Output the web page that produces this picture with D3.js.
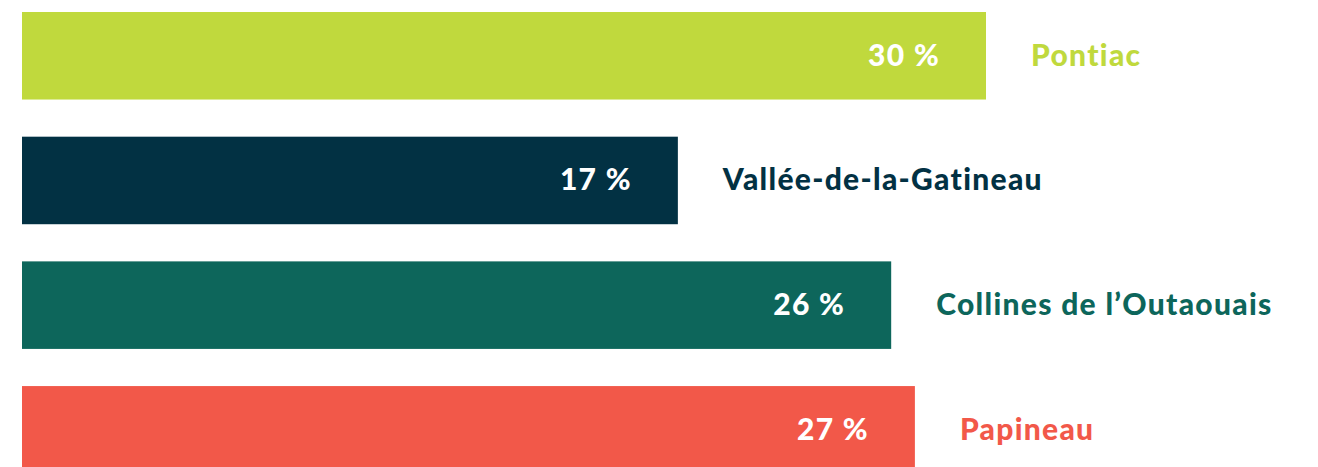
<!DOCTYPE html>
<html>
<head>
<meta charset="utf-8">
<script src="https://cdn.jsdelivr.net/npm/d3@7"></script>
<style>
  html, body { margin: 0; padding: 0; background: #fff; overflow: hidden; }
  text { font-family: "Lato", "Open Sans", sans-serif; font-weight: 900; letter-spacing: 1.3px; }
</style>
</head>
<body>
<div id="chart"></div>
<script>
// Data
var regions = ["Pontiac", "Vallée-de-la-Gatineau", "Collines de l\u2019Outaouais", "Papineau"];
var shares = [30, 17, 26, 27];
var regionColors = ["#c0d93d", "#023143", "#0d665b", "#f25849"];

var svgWidth = 1318;
var svgHeight = 467;

var margin = { top: 12, left: 22 };

var svg = d3.select("#chart")
  .append("svg")
  .attr("width", svgWidth)
  .attr("height", svgHeight);

var plotGroup = svg.append("g")
  .attr("transform", `translate(${margin.left}, ${margin.top})`);

var rows = regions.map(function(r, i) {
  return { region: r, share: shares[i], color: regionColors[i] };
});

// Scales
var xScale = d3.scaleLinear()
  .domain([-10.67, 30])
  .range([0, 964]);

var yScale = d3.scaleBand()
  .domain(regions)
  .range([0, 461.6])
  .paddingInner(0.298)
  .paddingOuter(0);

// Bars
plotGroup.selectAll("rect.bar")
  .data(rows)
  .enter()
  .append("rect")
  .attr("class", "bar")
  .attr("x", 0)
  .attr("y", d => yScale(d.region))
  .attr("width", d => xScale(d.share))
  .attr("height", yScale.bandwidth())
  .attr("fill", d => d.color);

// Value labels inside bars
plotGroup.selectAll("text.value")
  .data(rows)
  .enter()
  .append("text")
  .attr("class", "value")
  .attr("x", d => xScale(d.share) - 46)
  .attr("y", d => yScale(d.region) + yScale.bandwidth() / 2 + 10)
  .attr("text-anchor", "end")
  .style("fill", "#fff")
  .style("font-size", "30px")
  .text(d => d.share + " %");

// Region labels after bars
plotGroup.selectAll("text.region")
  .data(rows)
  .enter()
  .append("text")
  .attr("class", "region")
  .attr("x", d => xScale(d.share) + 45)
  .attr("y", d => yScale(d.region) + yScale.bandwidth() / 2 + 10)
  .attr("text-anchor", "start")
  .style("fill", d => d.color)
  .style("font-size", "30px")
  .text(d => d.region);
</script>
</body>
</html>
